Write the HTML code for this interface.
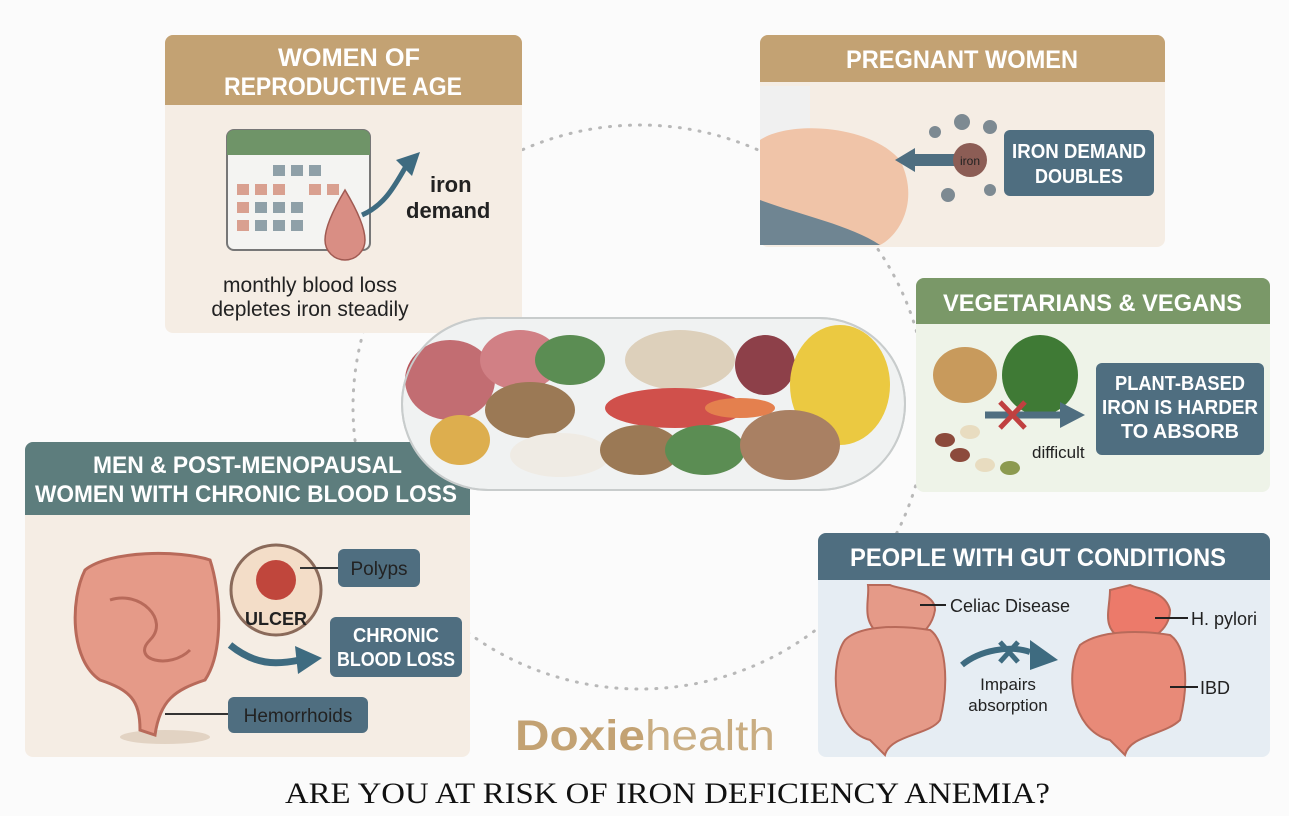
<!DOCTYPE html>
<html><head><meta charset="utf-8"><style>
html,body{margin:0;padding:0;background:#fff;}
svg{display:block;}
.h{font-family:"Liberation Sans",sans-serif;font-weight:bold;fill:#fff;}
.t{font-family:"Liberation Sans",sans-serif;fill:#222;}
</style></head><body>
<svg width="1289" height="816" viewBox="0 0 1289 816" xmlns="http://www.w3.org/2000/svg">
<rect width="1289" height="816" fill="#fbfbfb"/>
<ellipse cx="640" cy="407" rx="287" ry="282" fill="none" stroke="#b8b8b8" stroke-width="3" stroke-dasharray="1 9" stroke-linecap="round"/>

<!-- Box1 -->
<rect x="165" y="35" width="357" height="298" rx="8" fill="#f5ede4"/>
<path d="M165 105 V43 a8 8 0 0 1 8-8 H514 a8 8 0 0 1 8 8 V105Z" fill="#c3a273"/>
<text class="h" x="278" y="66" font-size="25" textLength="142" lengthAdjust="spacingAndGlyphs">WOMEN OF</text>
<text class="h" x="224" y="95" font-size="25" textLength="238" lengthAdjust="spacingAndGlyphs">REPRODUCTIVE AGE</text>
<rect x="227" y="130" width="143" height="120" rx="7" fill="#f4f4f2" stroke="#777" stroke-width="2"/>
<path d="M227 155 V137 a7 7 0 0 1 7-7 H363 a7 7 0 0 1 7 7 V155Z" fill="#6f9468"/>
<g fill="#8fa0a8">
<rect x="273" y="165" width="12" height="11"/><rect x="291" y="165" width="12" height="11"/><rect x="309" y="165" width="12" height="11"/>
<rect x="237" y="184" width="12" height="11" fill="#d9a090"/><rect x="255" y="184" width="12" height="11" fill="#d9a090"/><rect x="273" y="184" width="12" height="11" fill="#d9a090"/><rect x="309" y="184" width="12" height="11" fill="#d9a090"/><rect x="327" y="184" width="12" height="11" fill="#d9a090"/>
<rect x="237" y="202" width="12" height="11" fill="#d9a090"/><rect x="255" y="202" width="12" height="11"/><rect x="273" y="202" width="12" height="11"/><rect x="291" y="202" width="12" height="11"/>
<rect x="237" y="220" width="12" height="11" fill="#d9a090"/><rect x="255" y="220" width="12" height="11"/><rect x="273" y="220" width="12" height="11"/><rect x="291" y="220" width="12" height="11"/>
</g>
<path d="M345 190 C330 215 325 230 325 240 a20 20 0 0 0 40 0 C365 230 360 215 345 190Z" fill="#d98e84" stroke="#a05a52" stroke-width="1.5"/>
<path d="M362 215 C385 205 395 185 405 168" fill="none" stroke="#3e6b80" stroke-width="5"/>
<polygon points="396,160 420,152 412,176" fill="#3e6b80"/>
<text class="t" x="430" y="192" font-size="22" font-weight="bold" fill="#111">iron</text>
<text class="t" x="406" y="218" font-size="22" font-weight="bold" fill="#111">demand</text>
<text class="t" x="310" y="292" font-size="21" text-anchor="middle">monthly blood loss</text>
<text class="t" x="310" y="316" font-size="21" text-anchor="middle">depletes iron steadily</text>

<!-- Box2 -->
<rect x="760" y="35" width="405" height="212" rx="8" fill="#f5ede4"/>
<path d="M760 82 V43 a8 8 0 0 1 8-8 H1157 a8 8 0 0 1 8 8 V82Z" fill="#c3a273"/>
<text class="h" x="846" y="68" font-size="25" textLength="232" lengthAdjust="spacingAndGlyphs">PREGNANT WOMEN</text>
<rect x="760" y="86" width="50" height="60" fill="#f0f0f0"/>
<path d="M760 140 C790 120 870 125 900 160 C920 200 900 235 880 245 H760Z" fill="#f0c4a8"/>
<path d="M760 200 C800 215 850 225 880 245 H760Z" fill="#6f8592"/>
<polygon points="895,160 915,148 915,154 958,154 958,166 915,166 915,172" fill="#4f6e80"/>
<circle cx="970" cy="160" r="17" fill="#8c5d55"/>
<text class="t" x="970" y="165" font-size="12" fill="#fff" text-anchor="middle">iron</text>
<g fill="#7d8a92"><circle cx="962" cy="122" r="8"/><circle cx="990" cy="127" r="7"/><circle cx="935" cy="132" r="6"/><circle cx="948" cy="195" r="7"/><circle cx="990" cy="190" r="6"/></g>
<rect x="1004" y="130" width="150" height="66" rx="6" fill="#4f6e80"/>
<text class="h" x="1012" y="158" font-size="20" textLength="134" lengthAdjust="spacingAndGlyphs">IRON DEMAND</text>
<text class="h" x="1079" y="183" font-size="20" text-anchor="middle" textLength="88" lengthAdjust="spacingAndGlyphs">DOUBLES</text>

<!-- Box3 -->
<rect x="916" y="278" width="354" height="214" rx="8" fill="#eef3e8"/>
<path d="M916 324 V286 a8 8 0 0 1 8-8 H1262 a8 8 0 0 1 8 8 V324Z" fill="#7a9868"/>
<text class="h" x="943" y="311" font-size="24" textLength="299" lengthAdjust="spacingAndGlyphs">VEGETARIANS &amp; VEGANS</text>
<ellipse cx="965" cy="375" rx="32" ry="28" fill="#c89a5c"/>
<ellipse cx="1040" cy="375" rx="38" ry="40" fill="#3f7a35"/>
<g fill="#8c4a3c"><ellipse cx="945" cy="440" rx="10" ry="7"/><ellipse cx="970" cy="432" rx="10" ry="7" fill="#e8dcc0"/><ellipse cx="960" cy="455" rx="10" ry="7"/><ellipse cx="985" cy="465" rx="10" ry="7" fill="#e8dcc0"/><ellipse cx="1010" cy="468" rx="10" ry="7" fill="#8c9a50"/></g>
<path d="M985 415 H1065" stroke="#4f6e80" stroke-width="7"/>
<polygon points="1060,402 1085,415 1060,428" fill="#4f6e80"/>
<path d="M1000 402 L1025 428 M1025 402 L1000 428" stroke="#c04040" stroke-width="5"/>
<text class="t" x="1032" y="458" font-size="17">difficult</text>
<rect x="1096" y="363" width="168" height="92" rx="6" fill="#4f6e80"/>
<text class="h" x="1180" y="390" font-size="20" text-anchor="middle" textLength="130" lengthAdjust="spacingAndGlyphs">PLANT-BASED</text>
<text class="h" x="1180" y="414" font-size="20" text-anchor="middle" textLength="156" lengthAdjust="spacingAndGlyphs">IRON IS HARDER</text>
<text class="h" x="1180" y="438" font-size="20" text-anchor="middle" textLength="118" lengthAdjust="spacingAndGlyphs">TO ABSORB</text>

<!-- Box4 -->
<rect x="25" y="442" width="445" height="315" rx="8" fill="#f5ede4"/>
<path d="M25 515 V450 a8 8 0 0 1 8-8 H462 a8 8 0 0 1 8 8 V515Z" fill="#5d7d7d"/>
<text class="h" x="93" y="473" font-size="24" textLength="309" lengthAdjust="spacingAndGlyphs">MEN &amp; POST-MENOPAUSAL</text>
<text class="h" x="35" y="502" font-size="24" textLength="422" lengthAdjust="spacingAndGlyphs">WOMEN WITH CHRONIC BLOOD LOSS</text>
<ellipse cx="165" cy="737" rx="45" ry="7" fill="#e2d3c3"/>
<path d="M85 570 C70 600 70 660 100 680 C130 690 140 700 140 730 L155 735 C160 700 175 690 205 680 C225 650 220 590 210 560 C180 550 110 550 85 570Z" fill="#e59a88" stroke="#b86a5a" stroke-width="3"/>
<path d="M110 600 C140 590 170 620 150 640 C130 660 170 670 190 650" fill="none" stroke="#b86a5a" stroke-width="3"/>
<circle cx="276" cy="590" r="45" fill="#f3ddc8" stroke="#8a6a5a" stroke-width="3"/>
<circle cx="276" cy="580" r="20" fill="#c0463c"/>
<text class="t" x="276" y="625" font-size="18" font-weight="bold" text-anchor="middle" fill="#111">ULCER</text>
<line x1="300" y1="568" x2="338" y2="568" stroke="#333" stroke-width="2"/>
<rect x="338" y="549" width="82" height="38" rx="6" fill="#4f6e80"/>
<text class="t" x="379" y="575" font-size="19" fill="#fff" text-anchor="middle">Polyps</text>
<path d="M230 645 C255 665 275 665 300 660" fill="none" stroke="#3e6b80" stroke-width="7"/>
<polygon points="295,646 322,658 298,674" fill="#3e6b80"/>
<rect x="330" y="617" width="132" height="60" rx="6" fill="#4f6e80"/>
<text class="h" x="396" y="642" font-size="20" text-anchor="middle" textLength="86" lengthAdjust="spacingAndGlyphs">CHRONIC</text>
<text class="h" x="396" y="666" font-size="20" text-anchor="middle" textLength="118" lengthAdjust="spacingAndGlyphs">BLOOD LOSS</text>
<line x1="165" y1="714" x2="228" y2="714" stroke="#333" stroke-width="2"/>
<rect x="228" y="697" width="140" height="36" rx="6" fill="#4f6e80"/>
<text class="t" x="298" y="722" font-size="19" fill="#fff" text-anchor="middle">Hemorrhoids</text>

<!-- Box5 -->
<rect x="818" y="533" width="452" height="224" rx="8" fill="#e6edf3"/>
<path d="M818 580 V541 a8 8 0 0 1 8-8 H1262 a8 8 0 0 1 8 8 V580Z" fill="#4f6e80"/>
<text class="h" x="850" y="566" font-size="25" textLength="376" lengthAdjust="spacingAndGlyphs">PEOPLE WITH GUT CONDITIONS</text>
<path d="M868 585 C870 600 860 620 880 635 C900 645 930 640 935 610 C935 590 900 590 890 585Z" fill="#e59a88" stroke="#b86a5a" stroke-width="2"/>
<path d="M845 640 C830 660 830 730 870 740 L885 755 C890 735 930 735 940 720 C950 680 945 640 930 630 C900 625 860 625 845 640Z" fill="#e59a88" stroke="#b86a5a" stroke-width="2"/>
<line x1="920" y1="605" x2="946" y2="605" stroke="#222" stroke-width="2"/>
<text class="t" x="950" y="612" font-size="18">Celiac Disease</text>
<path d="M962 665 C980 650 1010 645 1030 652" fill="none" stroke="#3e6b80" stroke-width="6"/>
<polygon points="1030,640 1058,660 1030,670" fill="#3e6b80"/>
<path d="M1000 642 L1018 662 M1018 642 L1000 662" stroke="#3e6b80" stroke-width="5"/>
<text class="t" x="1008" y="690" font-size="17" text-anchor="middle">Impairs</text>
<text class="t" x="1008" y="711" font-size="17" text-anchor="middle">absorption</text>
<path d="M1110 590 C1110 610 1100 630 1125 640 C1150 645 1170 630 1170 610 C1165 590 1140 590 1130 585Z" fill="#ec7a6a" stroke="#b86a5a" stroke-width="2"/>
<path d="M1080 645 C1065 670 1070 730 1110 740 L1125 755 C1130 735 1165 735 1180 720 C1190 680 1185 645 1170 635 C1140 630 1100 630 1080 645Z" fill="#e88a78" stroke="#b86a5a" stroke-width="2"/>
<line x1="1155" y1="618" x2="1188" y2="618" stroke="#222" stroke-width="2"/>
<text class="t" x="1191" y="625" font-size="18">H. pylori</text>
<line x1="1170" y1="687" x2="1198" y2="687" stroke="#222" stroke-width="2"/>
<text class="t" x="1200" y="694" font-size="18">IBD</text>

<!-- Pill -->
<rect x="402" y="318" width="503" height="172" rx="86" fill="#eef0f0" stroke="#c8cccc" stroke-width="2"/>
<ellipse cx="450" cy="380" rx="45" ry="40" fill="#b8545a"/>
<ellipse cx="520" cy="360" rx="40" ry="30" fill="#c96a70"/>
<ellipse cx="570" cy="360" rx="35" ry="25" fill="#3f7a35"/>
<ellipse cx="530" cy="410" rx="45" ry="28" fill="#8a6238"/>
<ellipse cx="560" cy="455" rx="50" ry="22" fill="#ede8e0"/>
<ellipse cx="460" cy="440" rx="30" ry="25" fill="#d8a030"/>
<ellipse cx="680" cy="360" rx="55" ry="30" fill="#d8c8b0"/>
<ellipse cx="675" cy="408" rx="70" ry="20" fill="#c8322c"/>
<ellipse cx="640" cy="450" rx="40" ry="25" fill="#8a6238"/>
<ellipse cx="705" cy="450" rx="40" ry="25" fill="#3f7a35"/>
<circle cx="765" cy="365" r="30" fill="#7a1f2a"/>
<ellipse cx="840" cy="385" rx="50" ry="60" fill="#e8c020"/>
<ellipse cx="790" cy="445" rx="50" ry="35" fill="#9a6a48"/>
<ellipse cx="740" cy="408" rx="35" ry="10" fill="#e06a30"/>
<rect x="402" y="318" width="503" height="172" rx="86" fill="#fff" fill-opacity="0.15" stroke="#c8cccc" stroke-width="2"/>

<!-- Logo & title -->
<text x="515" y="750" font-family="'Liberation Sans',sans-serif" font-size="43" font-weight="bold" fill="#c3a273" textLength="260" lengthAdjust="spacingAndGlyphs">Doxie<tspan font-weight="normal" fill="#c9ad82">health</tspan></text>
<text x="285" y="803" font-family="'Liberation Serif',serif" font-size="30" fill="#111" textLength="765" lengthAdjust="spacingAndGlyphs">ARE YOU AT RISK OF IRON DEFICIENCY ANEMIA?</text>
</svg>
</body></html>
